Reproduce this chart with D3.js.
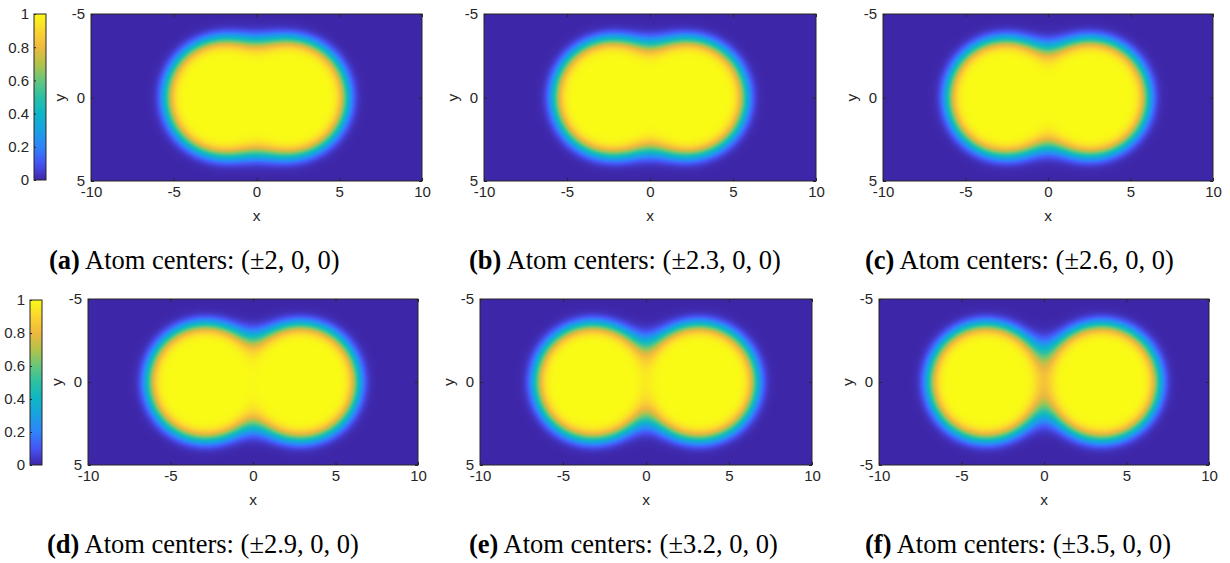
<!DOCTYPE html>
<html>
<head>
<meta charset="utf-8">
<script src="https://cdn.jsdelivr.net/npm/d3@7"></script>
<style>
  body { margin: 0; background: #fff; }
</style>
</head>
<body>
<script>
// panel letters and the atom center offset (+/- x) of each panel
const panelLetters = ["a", "b", "c", "d", "e", "f"];
const atomCenters = [2, 2.3, 2.6, 2.9, 3.2, 3.5];

// tick values and labels (panel f really labels the bottom as -5)
const xTicks = [-10, -5, 0, 5, 10];
const yTicks = [-5, 0, 5];
const yTickLabels = [
  ["-5", "0", "5"], ["-5", "0", "5"], ["-5", "0", "5"],
  ["-5", "0", "5"], ["-5", "0", "5"], ["-5", "0", "-5"]
];
const cbarTicks = [0, 0.2, 0.4, 0.6, 0.8, 1];

// smooth atom indicator: radius, edge width and union softness
const atomRadius = 3.43;
const edgeSigma = 0.41;
const unionSoftness = 0.7;

// parula-like colormap
const parulaStops = [0, 0.1, 0.2, 0.3, 0.4, 0.5, 0.6, 0.7, 0.8, 0.9, 1];
const parulaColors = ["#3e26a8", "#4653f4", "#2e84fa", "#1aa0e2", "#0db6c6",
  "#2ac0a4", "#66c77c", "#b3c24a", "#efb93e", "#fbd530", "#f9fb15"];

// layout
const W = 1230, H = 563;
const boxes = [
  {x: 91, y: 14, w: 331, h: 167},
  {x: 484, y: 14, w: 332, h: 167},
  {x: 883, y: 14, w: 330, h: 167},
  {x: 88, y: 299, w: 330, h: 166},
  {x: 480, y: 299, w: 332, h: 166},
  {x: 879, y: 299, w: 330, h: 166}
];
const captionPos = [[49, 269], [469, 269], [865, 269], [47, 553], [469, 553], [865, 553]];
const cbars = [{x: 34, y: 14, w: 12, h: 166}, {x: 30, y: 300, w: 12, h: 165}];

const axisColor = "#262626";
const sans = "'Liberation Sans', Arial, Helvetica, sans-serif";
const serif = "'Liberation Serif', 'Times New Roman', serif";

const color = d3.scaleLinear()
  .domain(parulaStops)
  .range(parulaColors)
  .interpolate(d3.interpolateRgb)
  .clamp(true);

function erf(x) {
  const s = Math.sign(x);
  x = Math.abs(x);
  const t = 1 / (1 + 0.3275911 * x);
  const y = 1 - (((((1.061405429 * t - 1.453152027) * t) + 1.421413741) * t - 0.284496736) * t + 0.254829592) * t * Math.exp(-x * x);
  return s * y;
}

function density(x, y, c) {
  // soft minimum of the distances to both atoms, then a smooth step
  const d1 = Math.hypot(x + c, y), d2 = Math.hypot(x - c, y);
  const m = Math.min(d1, d2);
  const dEff = m - unionSoftness * Math.log(Math.exp(-(d1 - m) / unionSoftness) + Math.exp(-(d2 - m) / unionSoftness));
  return 0.5 * (1 - erf((dEff - atomRadius) / (edgeSigma * Math.SQRT2)));
}

const svg = d3.select("body").append("svg")
  .attr("width", W)
  .attr("height", H)
  .style("background-color", "#fff");

function styleAxis(g) {
  g.select(".domain").remove();
  g.attr("font-family", sans).attr("font-size", 15);
  g.selectAll(".tick line").attr("stroke", axisColor);
  g.selectAll(".tick text").attr("fill", axisColor);
}

boxes.forEach((b, k) => {
  const xs = d3.scaleLinear().domain([-10, 10]).range([0, b.w]);
  const ys = d3.scaleLinear().domain([-5, 5]).range([0, b.h]);

  // heatmap raster
  const cw = Math.round(b.w), ch = Math.round(b.h);
  const canvas = document.createElement("canvas");
  canvas.width = cw;
  canvas.height = ch;
  const ctx = canvas.getContext("2d");
  const img = ctx.createImageData(cw, ch);
  for (let j = 0; j < ch; j++) {
    const yv = ys.invert(j + 0.5);
    for (let i = 0; i < cw; i++) {
      const xv = xs.invert(i + 0.5);
      const c = d3.rgb(color(density(xv, yv, atomCenters[k])));
      const p = (j * cw + i) * 4;
      img.data[p] = c.r; img.data[p + 1] = c.g; img.data[p + 2] = c.b; img.data[p + 3] = 255;
    }
  }
  ctx.putImageData(img, 0, 0);

  const g = svg.append("g").attr("transform", `translate(${b.x},${b.y})`);
  g.append("image")
    .attr("href", canvas.toDataURL())
    .attr("width", b.w)
    .attr("height", b.h)
    .attr("preserveAspectRatio", "none");

  g.append("g").attr("transform", `translate(0,${b.h})`)
    .call(d3.axisBottom(xs).tickValues(xTicks).tickSizeInner(-3).tickSizeOuter(0).tickPadding(5)
      .tickFormat(d => String(d)))
    .call(styleAxis);
  g.append("g")
    .call(d3.axisTop(xs).tickValues(xTicks).tickSizeInner(-3).tickSizeOuter(0).tickFormat(""))
    .call(styleAxis);
  g.append("g")
    .call(d3.axisLeft(ys).tickValues(yTicks).tickSizeInner(-3).tickSizeOuter(0).tickPadding(6)
      .tickFormat((d, i) => yTickLabels[k][i]))
    .call(styleAxis);
  g.append("g").attr("transform", `translate(${b.w},0)`)
    .call(d3.axisRight(ys).tickValues(yTicks).tickSizeInner(-3).tickSizeOuter(0).tickFormat(""))
    .call(styleAxis);

  g.append("rect")
    .attr("width", b.w)
    .attr("height", b.h)
    .attr("fill", "none")
    .attr("stroke", axisColor)
    .attr("stroke-width", 1);

  g.append("text")
    .attr("x", b.w / 2)
    .attr("y", b.h + 40)
    .attr("text-anchor", "middle")
    .attr("font-family", sans)
    .attr("font-size", 15.5)
    .attr("fill", axisColor)
    .text("x");

  g.append("text")
    .attr("transform", `translate(-26.5,${b.h / 2}) rotate(-90)`)
    .attr("text-anchor", "middle")
    .attr("font-family", sans)
    .attr("font-size", 15.5)
    .attr("fill", axisColor)
    .text("y");

  // caption
  const cap = svg.append("text")
    .attr("x", captionPos[k][0])
    .attr("y", captionPos[k][1])
    .attr("font-family", serif)
    .attr("font-size", 26.5)
    .attr("fill", "#000");
  cap.append("tspan").attr("font-weight", "bold").text(`(${panelLetters[k]})`);
  cap.append("tspan").text(` Atom centers: (\u00b1${atomCenters[k]}, 0, 0)`);
});

// colorbars
const defs = svg.append("defs");
const grad = defs.append("linearGradient")
  .attr("id", "parula")
  .attr("x1", 0).attr("y1", 1).attr("x2", 0).attr("y2", 0);
grad.selectAll("stop")
  .data(d3.range(0, 1.0001, 0.025))
  .enter().append("stop")
  .attr("offset", d => d)
  .attr("stop-color", d => color(d));

cbars.forEach(cb => {
  const cy = d3.scaleLinear().domain([0, 1]).range([cb.h, 0]);
  const g = svg.append("g").attr("transform", `translate(${cb.x},${cb.y})`);
  g.append("rect")
    .attr("width", cb.w)
    .attr("height", cb.h)
    .attr("fill", "url(#parula)");
  g.append("g")
    .call(d3.axisLeft(cy).tickValues(cbarTicks).tickSizeInner(-2).tickSizeOuter(0).tickPadding(5)
      .tickFormat(d3.format("~g")))
    .call(styleAxis);
  g.append("rect")
    .attr("width", cb.w)
    .attr("height", cb.h)
    .attr("fill", "none")
    .attr("stroke", axisColor)
    .attr("stroke-width", 1);
});
</script>
</body>
</html>
